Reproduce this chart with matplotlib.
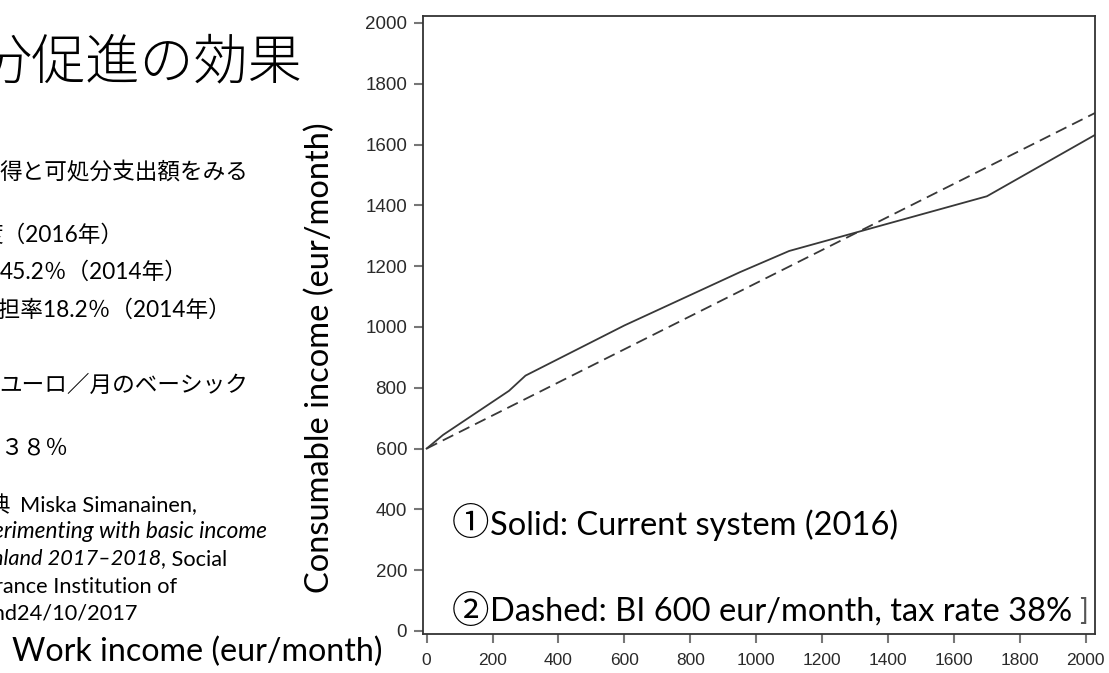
import matplotlib
matplotlib.use("Agg")
import matplotlib.pyplot as plt

W, H = 1109, 673

# data
work_income = [0, 50, 250, 300, 600, 950, 1100, 1300, 1700, 2030]
current_system = [600, 645, 790, 840, 1005, 1180, 1250, 1310, 1430, 1633]
bi_income = [0, 2030]
bi_system = [600, 1705]

yticks = [0, 200, 400, 600, 800, 1000, 1200, 1400, 1600, 1800, 2000]
xticks = [0, 200, 400, 600, 800, 1000, 1200, 1400, 1600, 1800, 2000]

LAT = ["Lato", "Noto Sans CJK JP"]
JP = ["Noto Sans CJK JP", "Lato"]

fig = plt.figure(figsize=(W / 100, H / 100), dpi=100)


def px(x, y):
    return x / W, 1 - y / H


# ---------------------------------------------------------------------------
# chart
# ---------------------------------------------------------------------------
ax = fig.add_axes([423 / W, 1 - 634 / H, (1095 - 423) / W, (634 - 16) / H])
ax.plot(work_income, current_system, color="#383838", lw=1.3)
ax.plot(bi_income, bi_system, color="#383838", lw=1.3, ls=(0, (6.5, 3.5)))
ax.set_xlim(-11, 2028)
ax.set_ylim(-10, 2023)
ax.set_xticks(xticks)
ax.set_yticks(yticks)
for s in ax.spines.values():
    s.set_color("#333333")
    s.set_linewidth(1.3)
ax.tick_params(length=6.5, width=1.5, color="#777777", labelcolor="#2a2a2a")
ax.tick_params(axis="y", pad=5)
ax.tick_params(axis="x", pad=7)
for lab in ax.get_yticklabels():
    lab.set_family(["Liberation Sans", "DejaVu Sans"])
    lab.set_fontsize(13.5)
for lab in ax.get_xticklabels():
    lab.set_family(["Liberation Sans Narrow", "Liberation Sans"])
    lab.set_fontsize(12.5)

# legend-like notes inside the plot
fig.text(*px(452, 525), "①", family=JP, fontsize=27, va="center", ha="left")
fig.text(*px(490, 525), "Solid: Current system (2016)", family=LAT, fontsize=23.5,
         va="center", ha="left")
fig.text(*px(452, 612), "②", family=JP, fontsize=27, va="center", ha="left")
fig.text(*px(490, 612), "Dashed: BI 600 eur/month, tax rate 38%", family=LAT,
         fontsize=23.5, va="center", ha="left")
fig.text(*px(1079, 611), "]", family=LAT, fontsize=21,
         va="center", ha="left", color="#555555")

# axis titles (slide text, placed by hand)
fig.text(*px(320, 358), "Consumable income (eur/month)", family=LAT, fontsize=23.5,
         rotation=90, va="center", ha="center")
fig.text(*px(12, 652), "Work income (eur/month)", family=LAT, fontsize=23.2,
         va="center", ha="left")

# ---------------------------------------------------------------------------
# slide text on the left (clipped by the figure edge)
# ---------------------------------------------------------------------------
fig.text(*px(302, 63), "分促進の効果", family=JP, fontsize=39, weight="light",
         va="center", ha="right")

jp_lines = [
    (248, 172, "得と可処分支出額をみる", "right"),
    (123, 235, "度（2016年）", "right"),
    (0, 272, "45.2％（2014年）", "left"),
    (232, 310, "負担率18.2％（2014年）", "right"),
    (248, 385, "ユーロ／月のベーシック", "right"),
    (0, 448, "３８％", "left"),
]
for x, y, t, ha in jp_lines:
    fig.text(*px(x, y), t, family=LAT, fontsize=16.3, va="center", ha=ha)

fig.text(*px(11, 505), "出典", family=JP, fontsize=16, va="center", ha="right")
fig.text(*px(20, 505), "Miska Simanainen,", family=LAT, fontsize=15.7,
         va="center", ha="left")
fig.text(*px(267, 532), "erimenting with basic income", family=LAT, fontsize=16.3,
         style="italic", va="center", ha="right")
t_soc = fig.text(*px(227, 559), ", Social", family=LAT, fontsize=15.7,
                 va="center", ha="right")
r = fig.canvas.get_renderer()
wsoc = t_soc.get_window_extent(r).width
fig.text(*px(227 - wsoc, 559), "nland 2017–2018", family=LAT, fontsize=15.7,
         style="italic", va="center", ha="right")
fig.text(*px(177, 587), "rance Institution of", family=LAT, fontsize=15.7,
         va="center", ha="right")
fig.text(*px(138, 613), "and24/10/2017", family=LAT, fontsize=15.7,
         va="center", ha="right")

fig.savefig("out.png", dpi=100)
